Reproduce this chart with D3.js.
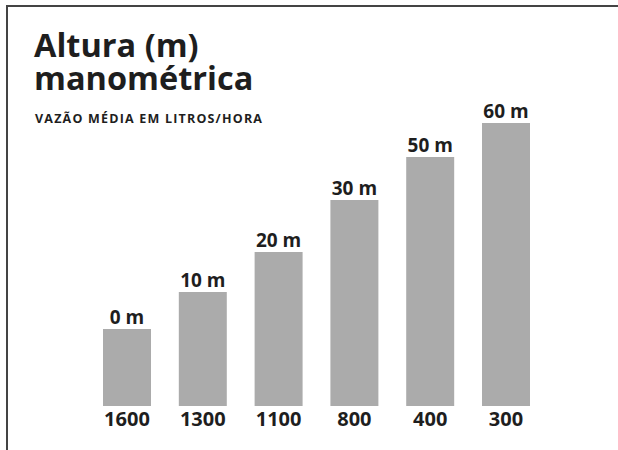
<!DOCTYPE html>
<html>
<head>
<meta charset="utf-8">
<script src="https://cdn.jsdelivr.net/npm/d3@7"></script>
<style>
  html, body { margin: 0; padding: 0; background: #fff; }
  svg { display: block; font-family: "Open Sans", sans-serif; }
</style>
</head>
<body>
<div id="chart"></div>
<script>
const categories = ["1600", "1300", "1100", "800", "400", "300"];
const heightLabels = ["0 m", "10 m", "20 m", "30 m", "50 m", "60 m"];
const barValues = [77, 114, 154, 206, 249, 283];
const title = ["Altura (m)", "manométrica"];
const subtitle = "VAZÃO MÉDIA EM LITROS/HORA";

const W = 618, H = 450;
const svg = d3.select("#chart").append("svg").attr("width", W).attr("height", H);

// frame
svg.append("line").attr("x1", 7).attr("x2", W).attr("y1", 6).attr("y2", 6)
  .attr("stroke", "#444").attr("stroke-width", 2);
svg.append("line").attr("x1", 7).attr("x2", 7).attr("y1", 5).attr("y2", H)
  .attr("stroke", "#444").attr("stroke-width", 2);

// title (one text block, two lines)
const t = svg.append("text").attr("font-size", 32.5).attr("font-weight", 700).attr("fill", "#1e1e1e");
t.selectAll("tspan").data(title).join("tspan")
  .attr("x", 34).attr("y", (d, i) => 57 + i * 33).text(d => d);

svg.append("text").attr("x", 35).attr("y", 123)
  .attr("font-size", 12.5).attr("letter-spacing", 1.2).attr("font-weight", 700)
  .attr("fill", "#1e1e1e").text(subtitle);

const x = d3.scaleBand().domain(categories).range([103, 530]).paddingInner(0.367).paddingOuter(0);
const y = d3.scaleLinear().domain([0, 300]).range([406, 106]);

svg.selectAll("rect.bar").data(barValues).join("rect")
  .attr("class", "bar")
  .attr("x", (d, i) => x(categories[i]))
  .attr("width", x.bandwidth())
  .attr("y", d => y(d))
  .attr("height", d => y(0) - y(d))
  .attr("fill", "#ababab");

svg.selectAll("text.top").data(barValues).join("text")
  .attr("class", "top")
  .attr("x", (d, i) => x(categories[i]) + x.bandwidth() / 2)
  .attr("y", d => y(d) - 5)
  .attr("text-anchor", "middle")
  .attr("font-size", 19).attr("font-weight", 700).attr("fill", "#1e1e1e")
  .text((d, i) => heightLabels[i]);

svg.selectAll("text.cat").data(categories).join("text")
  .attr("class", "cat")
  .attr("x", d => x(d) + x.bandwidth() / 2)
  .attr("y", 426)
  .attr("text-anchor", "middle")
  .attr("font-size", 20).attr("font-weight", 700).attr("fill", "#1e1e1e")
  .text(d => d);
</script>
</body>
</html>
